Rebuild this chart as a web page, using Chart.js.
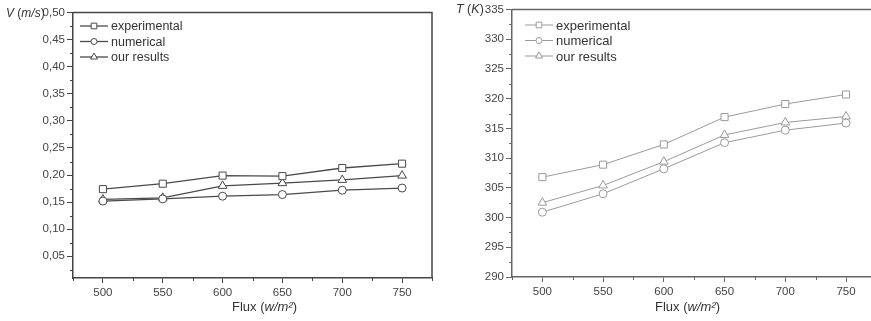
<!DOCTYPE html>
<html>
<head>
<meta charset="utf-8">
<script src="https://cdn.jsdelivr.net/npm/chart.js@4.4.1/dist/chart.umd.min.js"></script>
<style>
  body { margin: 0; width: 871px; height: 321px; overflow: hidden; background: #fff; position: relative;
         font-family: "Liberation Sans", Arial, sans-serif; }
  canvas { position: absolute; top: 0; }
  #cv { left: 0; }
  #ct { left: 440px; }
  .lbl { position: absolute; font-size: 13px; color: #333; white-space: nowrap; }
  .lbl i { font-style: italic; }
</style>
</head>
<body>
<canvas id="cv" width="440" height="321"></canvas>
<canvas id="ct" width="450" height="321"></canvas>
<div class="lbl" style="left:6px;top:6px;font-size:12px"><i>V</i> (<i>m/s</i>)</div>
<div class="lbl" style="left:456px;top:2px;font-size:12.5px"><i>T</i> (<i>K</i>)</div>
<div class="lbl" style="left:232px;top:299px">Flux (<i>w/m²</i>)</div>
<div class="lbl" style="left:655px;top:299px">Flux (<i>w/m²</i>)</div>
<script>
// données
const flux = [500, 550, 600, 650, 700, 750];
const fluxTicks = [500, 550, 600, 650, 700, 750];
const fluxMinor = [475, 525, 575, 625, 675, 725, 775];

const vExperimental = [0.174, 0.184, 0.199, 0.198, 0.213, 0.221];
const vNumerical = [0.152, 0.156, 0.161, 0.164, 0.172, 0.176];
const vOurResults = [0.155, 0.158, 0.180, 0.185, 0.191, 0.199];
const vTicks = [0.05, 0.10, 0.15, 0.20, 0.25, 0.30, 0.35, 0.40, 0.45, 0.50];
const vMinor = [0.025, 0.075, 0.125, 0.175, 0.225, 0.275, 0.325, 0.375, 0.425, 0.475];

const tExperimental = [306.8, 308.9, 312.3, 316.9, 319.1, 320.7];
const tNumerical = [300.9, 304.0, 308.2, 312.6, 314.7, 315.9];
const tOurResults = [302.5, 305.4, 309.4, 313.9, 316.0, 317.0];
const tTicks = [290, 295, 300, 305, 310, 315, 320, 325, 330, 335];
const tMinor = [292.5, 297.5, 302.5, 307.5, 312.5, 317.5, 322.5, 327.5, 332.5];

const legendNames = ['experimental', 'numerical', 'our results'];
const markers = ['rect', 'circle', 'triangle'];

function pts(values) {
    return flux.map((f, i) => ({ x: f, y: values[i] }));
}

// cadre + petites graduations + légende
const extras = {
    id: 'extras',
    afterDraw(chart, args, opts) {
        const ctx = chart.ctx;
        const a = chart.chartArea;
        const xs = chart.scales.x, ys = chart.scales.y;
        ctx.save();
        ctx.strokeStyle = opts.frame;
        ctx.lineWidth = opts.frameWidth;
        ctx.beginPath();
        ctx.moveTo(a.left, a.top);
        ctx.lineTo(a.right, a.top);
        ctx.lineTo(a.right, a.bottom);
        ctx.stroke();

        ctx.lineWidth = 1;
        ctx.strokeStyle = opts.tick;
        ctx.beginPath();
        opts.xMinor.forEach(v => {
            const px = Math.round(xs.getPixelForValue(v)) + 0.5;
            ctx.moveTo(px, a.bottom);
            ctx.lineTo(px, a.bottom + 3);
        });
        opts.yMinor.forEach(v => {
            const py = Math.round(ys.getPixelForValue(v)) + 0.5;
            if (py < a.top || py > a.bottom) return;
            ctx.moveTo(a.left, py);
            ctx.lineTo(a.left - 3, py);
        });
        ctx.stroke();

        // légende
        const lg = opts.legend;
        ctx.font = lg.font + 'px "Liberation Sans", Arial, sans-serif';
        ctx.textBaseline = 'middle';
        chart.data.datasets.forEach((ds, i) => {
            const y = lg.y + i * lg.step;
            ctx.strokeStyle = ds.borderColor;
            ctx.lineWidth = ds.borderWidth;
            ctx.beginPath();
            ctx.moveTo(lg.x, y);
            ctx.lineTo(lg.x + 28, y);
            ctx.stroke();
            ctx.fillStyle = '#fff';
            ctx.lineWidth = 1;
            Chart.helpers.drawPoint(ctx, { pointStyle: ds.pointStyle, radius: ds.pointRadius - 1, rotation: 0, borderWidth: 1 }, lg.x + 14, y);
            ctx.fillStyle = lg.color;
            ctx.fillText(legendNames[i], lg.x + 31, y + 1);
        });
        ctx.restore();
    }
};

function makeChart(id, series, color, lineW, yTicks, yMinor, yMin, yMax, fmt, area, legend, axisColor) {
    const datasets = series.map((s, i) => ({
        label: legendNames[i],
        data: pts(s),
        borderColor: color,
        borderWidth: lineW,
        pointStyle: markers[i],
        pointRadius: i === 0 ? 5 : (i === 1 ? 4 : 5),
        pointBorderWidth: 1,
        pointBackgroundColor: '#fff',
        pointBorderColor: color,
        tension: 0
    }));
    return new Chart(document.getElementById(id), {
        type: 'line',
        data: { datasets },
        options: {
            responsive: false,
            animation: false,
            layout: { padding: { top: area.top, right: area.right, bottom: 0, left: 0 } },
            plugins: {
                legend: { display: false },
                tooltip: { enabled: false },
                extras: { frame: axisColor, frameWidth: 1.5, tick: axisColor, xMinor: fluxMinor, yMinor: yMinor, legend: legend }
            },
            scales: {
                x: {
                    type: 'linear',
                    min: 475, max: 775,
                    afterBuildTicks: s => { s.ticks = fluxTicks.map(v => ({ value: v })); },
                    afterFit: s => { s.height = area.xh; },
                    grid: { drawOnChartArea: false, drawTicks: true, tickLength: 5, color: axisColor },
                    border: { display: true, color: axisColor, width: 1.5 },
                    ticks: { color: '#444', padding: 3, maxRotation: 0,
                             font: { family: '"Liberation Sans", Arial, sans-serif', size: 11.5 } }
                },
                y: {
                    type: 'linear',
                    min: yMin, max: yMax,
                    afterBuildTicks: s => { s.ticks = yTicks.map(v => ({ value: v })); },
                    afterFit: s => { s.width = area.yw; },
                    grid: { drawOnChartArea: false, drawTicks: true, tickLength: 6, color: axisColor },
                    border: { display: true, color: axisColor, width: 1.5 },
                    ticks: { color: '#444', padding: 2, callback: fmt,
                             font: { family: '"Liberation Sans", Arial, sans-serif', size: 11.5 } }
                }
            }
        },
        plugins: [extras]
    });
}

makeChart('cv', [vExperimental, vNumerical, vOurResults], '#4a4a4a', 1.3,
    vTicks, vMinor, 0.01, 0.50, v => v.toFixed(2).replace('.', ','),
    { top: 12.5, right: 8, xh: 43, yw: 73 },
    { x: 80, y: 26, step: 15.5, font: 12.5, color: '#333' }, '#444');

makeChart('ct', [tExperimental, tNumerical, tOurResults], '#9a9a9a', 1,
    tTicks, tMinor, 290, 335, v => String(v),
    { top: 9.5, right: 13.6, xh: 44, yw: 72 },
    { x: 85, y: 25, step: 15.5, font: 13, color: '#333' }, '#666');
</script>
</body>
</html>
